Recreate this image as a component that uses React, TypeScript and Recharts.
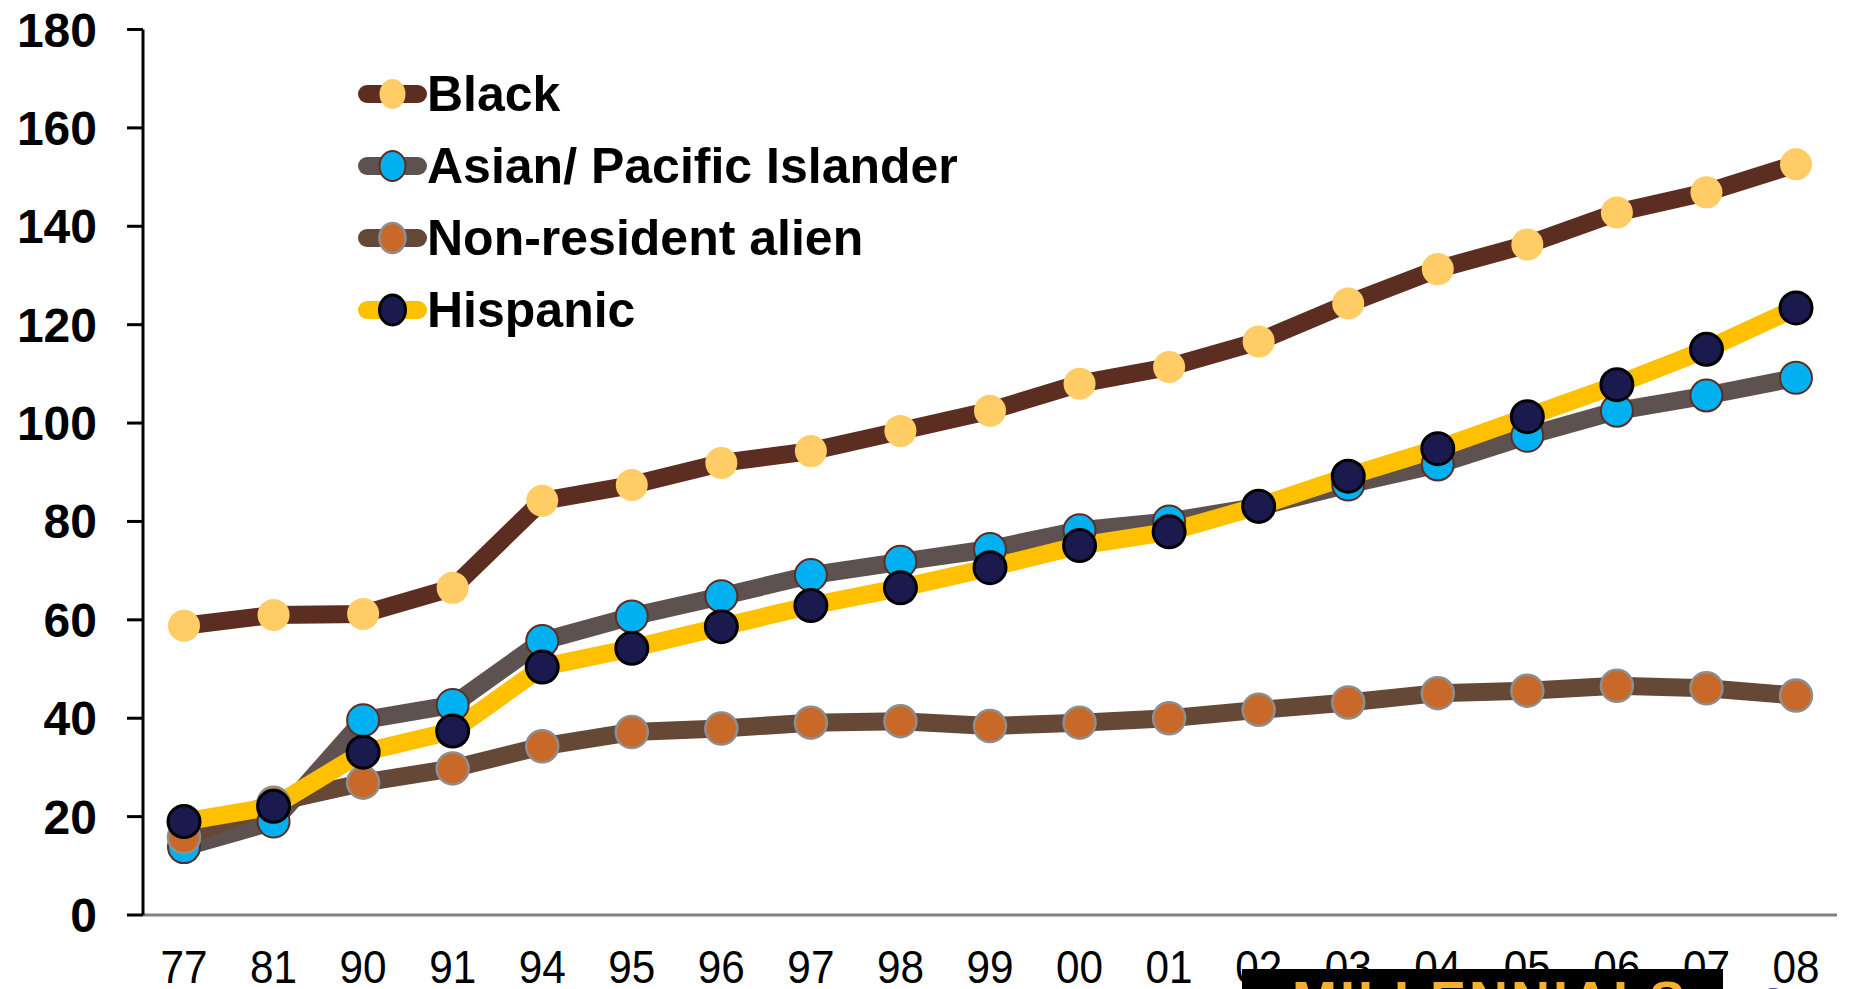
import React from "react";
import { LineChart, Line, XAxis, YAxis } from "recharts";

const years = ["77", "81", "90", "91", "94", "95", "96", "97", "98", "99", "00", "01", "02", "03", "04", "05", "06", "07", "08"];
const black = [58.8, 61, 61.2, 66.5, 84.2, 87.4, 91.9, 94.3, 98.4, 102.5, 108, 111.4, 116.6, 124.3, 131.3, 136.3, 142.8, 146.9, 152.6];
const asian = [13.8, 19, 39.6, 42.7, 55.7, 60.7, 64.8, 69.1, 71.8, 74.4, 78.2, 80, 83, 87.5, 91.6, 97.4, 102.5, 105.6, 109.2];
const nonResident = [15.8, 22.8, 26.9, 29.8, 34.3, 37.2, 37.9, 39.1, 39.4, 38.4, 39.1, 40, 41.7, 43.2, 45.1, 45.6, 46.6, 46.1, 44.6];
const hispanic = [19, 22.1, 33.1, 37.4, 50.4, 54.2, 58.6, 62.9, 66.5, 70.6, 75.1, 77.9, 83.1, 89.2, 94.8, 101.3, 107.8, 115, 123.4];
const yTicks = [0, 20, 40, 60, 80, 100, 120, 140, 160, 180];

const data = years.map((year, i) => ({
  year,
  black: black[i],
  asian: asian[i],
  nonResident: nonResident[i],
  hispanic: hispanic[i],
}));

const series = [
  { key: "black", name: "Black", line: "#5C2E22", fill: "#FFCC66", stroke: "#FFCC66", sw: 0 },
  { key: "asian", name: "Asian/ Pacific Islander", line: "#5E5250", fill: "#00B0F0", stroke: "#5C2D22", sw: 2 },
  { key: "nonResident", name: "Non-resident alien", line: "#654835", fill: "#C8692A", stroke: "#8E8E8E", sw: 2.5 },
  { key: "hispanic", name: "Hispanic", line: "#FFC000", fill: "#1B1A4E", stroke: "#000000", sw: 3 },
];

// narrow regular labels like the original's condensed font
const YearTick = (props: any) => {
  const { x, y, payload } = props;
  return (
    <g transform={`translate(${x},${y})`}>
      <text
        transform="scale(0.9,1)"
        textAnchor="middle"
        dy="0.71em"
        fill="#000"
        fontSize={47}
        fontFamily="'Liberation Sans', Arial, sans-serif"
      >
        {payload.value}
      </text>
    </g>
  );
};

const ChartLegend = () => (
  <div style={{ position: "absolute", left: 358, top: 58 }}>
    {series.map((s) => (
      <div key={s.key} style={{ height: 72, display: "flex", alignItems: "center" }}>
        <svg width={69} height={40}>
          <line x1={9} y1={20} x2={60} y2={20} stroke={s.line} strokeWidth={18} strokeLinecap="round" />
          <ellipse cx={34.5} cy={20} rx={13} ry={15} fill={s.fill} stroke={s.stroke} strokeWidth={s.sw} />
        </svg>
        <span style={{ fontFamily: "'Liberation Sans', Arial, sans-serif", fontWeight: 700, fontSize: 50, color: "#000" }}>
          {s.name}
        </span>
      </div>
    ))}
  </div>
);

export default function App() {
  return (
    <div style={{ position: "absolute", left: 0, top: 0, width: 1851, height: 989, overflow: "hidden", background: "#fff" }}>
      <LineChart width={1851} height={1000} data={data} margin={{ top: 29.5, right: 14, left: 0, bottom: 0 }}>
        <XAxis
          dataKey="year"
          padding={{ left: 41, right: 41 }}
          axisLine={{ stroke: "#808080", strokeWidth: 3 }}
          tickLine={false}
          tickSize={0}
          tickMargin={35}
          height={85}
          interval={0}
          tick={<YearTick />}
        />
        <YAxis
          domain={[0, 180]}
          ticks={yTicks}
          width={143}
          axisLine={{ stroke: "#000", strokeWidth: 3 }}
          tickLine={{ stroke: "#000", strokeWidth: 3 }}
          tickSize={16}
          tickMargin={30}
          tick={{ fill: "#000", fontSize: 48, fontWeight: 700, fontFamily: "'Liberation Sans', Arial, sans-serif" }}
        />
        {series.map((s) => (
          <Line
            key={s.key}
            dataKey={s.key}
            name={s.name}
            stroke={s.line}
            strokeWidth={18}
            strokeLinejoin="round"
            dot={{ r: 16, fill: s.fill, stroke: s.stroke, strokeWidth: s.sw }}
            activeDot={false}
            isAnimationActive={false}
          />
        ))}
      </LineChart>
      <ChartLegend />
      <div style={{ position: "absolute", left: 1242, top: 969, width: 481, height: 30, background: "#000", overflow: "hidden" }}>
        <span
          style={{
            position: "absolute",
            left: 50,
            top: 4,
            fontFamily: "'Liberation Sans', Arial, sans-serif",
            fontWeight: 700,
            fontSize: 54,
            lineHeight: "54px",
            letterSpacing: 3,
            color: "#F6AE2D",
          }}
        >
          MILLENNIALS
        </span>
      </div>
      <span style={{ position: "absolute", left: 1768, top: 982, fontFamily: "'Liberation Serif', serif", fontSize: 22, color: "#5A4F9A" }}>
        Pew
      </span>
    </div>
  );
}
